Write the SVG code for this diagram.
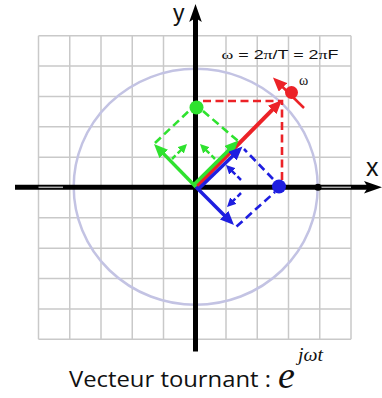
<svg xmlns="http://www.w3.org/2000/svg" width="382" height="398" viewBox="0 0 382 398">
<style>
.grid line{stroke:#c9c9c9;stroke-width:1.5}
.axis{stroke:#000;stroke-width:5;fill:none}
.vec{fill:none;stroke-linecap:butt}
.red{stroke:#ec2227}
.green{stroke:#2fe22f}
.blue{stroke:#1e1ee0}
.dash{fill:none;stroke-width:2.6;stroke-dasharray:8 4.5}
.sm{fill:none;stroke-width:2.5;stroke-dasharray:5 3}
.lbl{font-family:"Liberation Sans",Arial,sans-serif;fill:#111}
</style>
<defs>
<marker id="axh" markerUnits="userSpaceOnUse" markerWidth="18" markerHeight="13" refX="5" refY="6.3" orient="auto"><path d="M0,0 L18,6.3 L0,12.6 L4,6.3 z" fill="#000"/></marker>
<marker id="hr" markerUnits="userSpaceOnUse" markerWidth="14" markerHeight="12" refX="4" refY="6" orient="auto"><path d="M0,0 L14,6 L0,12 z" fill="#ec2227"/></marker>
<marker id="hg" markerUnits="userSpaceOnUse" markerWidth="14" markerHeight="12" refX="4" refY="6" orient="auto"><path d="M0,0 L14,6 L0,12 z" fill="#2fe22f"/></marker>
<marker id="hb" markerUnits="userSpaceOnUse" markerWidth="14" markerHeight="12" refX="4" refY="6" orient="auto"><path d="M0,0 L14,6 L0,12 z" fill="#1e1ee0"/></marker>
<marker id="sg" markerUnits="userSpaceOnUse" markerWidth="9" markerHeight="9" refX="3" refY="4.5" orient="auto"><path d="M0,0 L9,4.5 L0,9 z" fill="#2fe22f"/></marker>
<marker id="sb" markerUnits="userSpaceOnUse" markerWidth="9" markerHeight="9" refX="3" refY="4.5" orient="auto"><path d="M0,0 L9,4.5 L0,9 z" fill="#1e1ee0"/></marker>
</defs>
<rect width="382" height="398" fill="#fff"/>
<g id="grid" class="grid">
<line x1="38.5" y1="35.7" x2="38.5" y2="339.3"/>
<line x1="69.75" y1="35.7" x2="69.75" y2="339.3"/>
<line x1="101" y1="35.7" x2="101" y2="339.3"/>
<line x1="132.25" y1="35.7" x2="132.25" y2="339.3"/>
<line x1="163.5" y1="35.7" x2="163.5" y2="339.3"/>
<line x1="226" y1="35.7" x2="226" y2="339.3"/>
<line x1="257.25" y1="35.7" x2="257.25" y2="339.3"/>
<line x1="288.5" y1="35.7" x2="288.5" y2="339.3"/>
<line x1="319.75" y1="35.7" x2="319.75" y2="339.3"/>
<line x1="351" y1="35.7" x2="351" y2="339.3"/>
<line x1="38.5" y1="35.7" x2="351" y2="35.7"/>
<line x1="38.5" y1="66.06" x2="351" y2="66.06"/>
<line x1="38.5" y1="96.42" x2="351" y2="96.42"/>
<line x1="38.5" y1="126.78" x2="351" y2="126.78"/>
<line x1="38.5" y1="157.14" x2="351" y2="157.14"/>
<line x1="38.5" y1="217.86" x2="351" y2="217.86"/>
<line x1="38.5" y1="248.22" x2="351" y2="248.22"/>
<line x1="38.5" y1="278.58" x2="351" y2="278.58"/>
<line x1="38.5" y1="308.94" x2="351" y2="308.94"/>
<line x1="38.5" y1="339.3" x2="351" y2="339.3"/>
</g>
<ellipse id="circle" cx="195.7" cy="186.8" rx="122" ry="118" fill="none" stroke="#c3c3e3" stroke-width="2.5"/>
<g id="axes">
<line class="axis" x1="15" y1="187.3" x2="369" y2="187.3" marker-end="url(#axh)"/>
<line class="axis" x1="195.5" y1="351.5" x2="195.5" y2="17" marker-end="url(#axh)"/>
<line x1="38.5" y1="187.3" x2="63" y2="187.3" stroke="#aaa" stroke-width="1.5"/>
<line x1="321" y1="187.3" x2="351" y2="187.3" stroke="#aaa" stroke-width="1.5"/>
<circle cx="318" cy="187.3" r="3.5" fill="#000"/>
<text class="lbl" x="173" y="21" font-size="23">y</text>
<text class="lbl" x="366" y="176" font-size="25">x</text>
</g>
<g id="connectors">
<path class="red dash" d="M203,101 H282 V181" stroke-width="2.4" stroke-dasharray="7 4"/>
<path class="green dash" d="M155,143 L192,108 M203,111 L238,141"/>
<path class="blue dash" d="M236.5,226.5 L275,192 M273,179 L244,149"/>
<line class="green sm" x1="172" y1="159" x2="182.76" y2="148.24" marker-end="url(#sg)"/>
<line class="green sm" x1="215" y1="159" x2="204.24" y2="148.24" marker-end="url(#sg)"/>
<line class="blue sm" x1="241" y1="180" x2="230.24" y2="169.24" marker-end="url(#sb)"/>
<line class="blue sm" x1="241" y1="193" x2="231.24" y2="202.76" marker-end="url(#sb)"/>
<line class="vec red" x1="196" y1="187" x2="274.97" y2="107.11" stroke-width="4" marker-end="url(#hr)"/>
<line class="vec green" x1="193.8" y1="184.8" x2="231.4" y2="147.5" stroke-width="3.5" marker-end="url(#hg)"/>
<line class="vec blue" x1="198.2" y1="189.2" x2="235.3" y2="153.4" stroke-width="3.5" marker-end="url(#hb)"/>
<line class="vec green" x1="196" y1="187" x2="160.99" y2="151.15" stroke-width="3.5" marker-end="url(#hg)"/>
<line class="vec blue" x1="196" y1="187" x2="226.93" y2="217.93" stroke-width="3.5" marker-end="url(#hb)"/>
<line class="vec red" x1="304" y1="108" x2="280.1" y2="84.5" stroke-width="2.5" marker-end="url(#hr)"/>
</g>
<g id="dot-red"><circle cx="291.5" cy="92.5" r="6.5" fill="#ec2227"/></g>
<g id="dot-green"><circle cx="196.5" cy="107.5" r="7" fill="#2fe22f"/></g>
<g id="dot-blue"><circle cx="279" cy="186.5" r="7" fill="#1e1ee0"/></g>
<g id="labels">
<text x="221.5" y="59" font-size="12.5" textLength="117" lengthAdjust="spacingAndGlyphs" class="lbl"><tspan font-family="'Liberation Serif',serif">ω</tspan> = 2<tspan font-family="'Liberation Serif',serif">π</tspan>/T = 2<tspan font-family="'Liberation Serif',serif">π</tspan>F</text>
<text x="299" y="85" font-size="14" font-family="'Liberation Serif',serif" fill="#111">ω</text>
<text x="69" y="387" font-size="21" font-family="'Open Sans','Liberation Sans',sans-serif" fill="#111" textLength="202" lengthAdjust="spacingAndGlyphs">Vecteur tournant :</text>
<text x="278" y="388" font-size="38" font-style="italic" font-family="'Liberation Serif',serif" fill="#111">e</text>
<text x="298" y="361" font-size="19" font-style="italic" font-family="'Liberation Serif',serif" fill="#111" textLength="25" lengthAdjust="spacingAndGlyphs">jωt</text>
</g>
</svg>
